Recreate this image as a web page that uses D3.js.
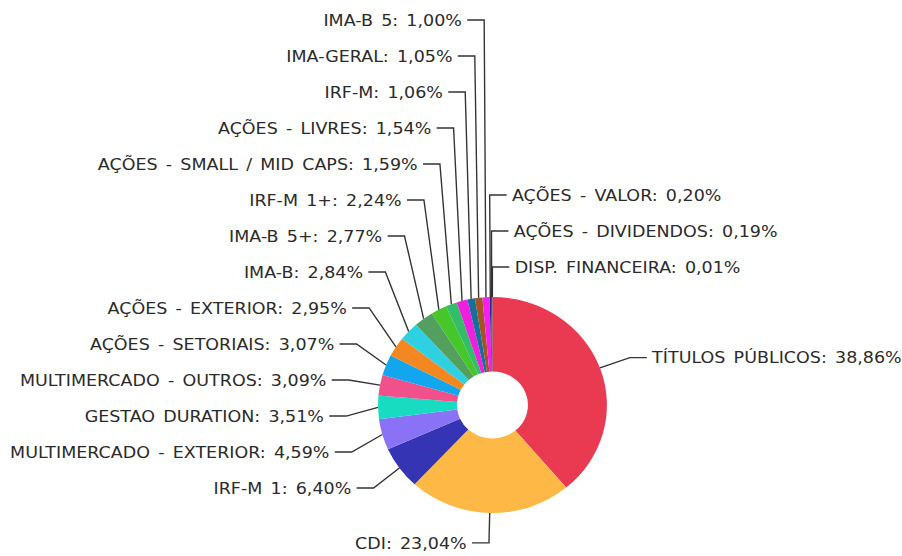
<!DOCTYPE html>
<html>
<head>
<meta charset="utf-8">
<script src="https://cdn.jsdelivr.net/npm/d3@7"></script>
<style>
    body { margin: 0; background: #fff; }
    .label { font-family: "DejaVu Sans", sans-serif; font-size: 16.5px; word-spacing: 2.5px; fill: #2b2b2b; }
    .connector { fill: none; stroke: #333; stroke-width: 1.3; }
</style>
</head>
<body>
<script>
(function(){

    //chart data, slices in clockwise order from 12 o'clock
    var categories = ["TÍTULOS PÚBLICOS", "CDI", "IRF-M 1", "MULTIMERCADO - EXTERIOR", "GESTAO DURATION",
        "MULTIMERCADO - OUTROS", "AÇÕES - SETORIAIS", "AÇÕES - EXTERIOR", "IMA-B", "IMA-B 5+", "IRF-M 1+",
        "AÇÕES - SMALL / MID CAPS", "AÇÕES - LIVRES", "IRF-M", "IMA-GERAL", "IMA-B 5",
        "AÇÕES - VALOR", "AÇÕES - DIVIDENDOS", "DISP. FINANCEIRA"];
    var values = [38.86, 23.04, 6.40, 4.59, 3.51, 3.09, 3.07, 2.95, 2.84, 2.77, 2.24, 1.59, 1.54, 1.06, 1.05, 1.00, 0.20, 0.19, 0.01];
    var colors = ["#ea3a51", "#fdb845", "#3434b4", "#8a72f6", "#17dcc1", "#f1508b", "#12a6ef", "#f4871f", "#2ed0e2",
        "#53a05e", "#46c62b", "#34bd68", "#ef1fdf", "#157099", "#a65224", "#f81df3", "#2a2a8a", "#444444", "#9b1b1b"];

    //frame: drawn in an 851 wide box, stretched to the 902 window
    var width = 902, height = 556, boxWidth = 851;
    var cx = 464.6, cy = 405,
        outerR = 108, innerR = 33.5,
        labelR = outerR + 30,
        spacing = 36, topY = 20, bottomY = 546;

    var svg = d3.select("body")
        .append("svg")
        .attr("width", width)
        .attr("height", height)
        .attr("viewBox", "0 0 " + boxWidth + " " + height)
        .attr("preserveAspectRatio", "none");

    var data = categories.map(function(c, i){
        return {name: c, value: values[i], color: colors[i]};
    });

    var pie = d3.pie()
        .sort(null)
        .value(function(d){ return d.value; });

    var arcs = pie(data);

    var arc = d3.arc()
        .innerRadius(innerR)
        .outerRadius(outerR);

    //slices
    svg.append("g")
        .attr("transform", "translate(" + cx + "," + cy + ")")
        .selectAll(".slice")
        .data(arcs)
        .enter()
        .append("path")
        .attr("class", "slice")
        .attr("d", arc)
        .style("fill", function(d){ return d.data.color; });

    //label placement
    arcs.forEach(function(d){
        d.mid = (d.startAngle + d.endAngle) / 2;
        d.naturalY = cy - labelR * Math.cos(d.mid);
        d.breakX = cx + labelR * Math.sin(d.mid);
        d.right = d.mid < Math.PI;
    });

    var right = arcs.filter(function(d){ return d.right; });
    var left = arcs.filter(function(d){ return !d.right; })
        .sort(function(a, b){ return b.mid - a.mid; });

    //left side is full: labels nearest the top move to the right side
    var capacity = Math.floor((bottomY - topY) / spacing) + 1;
    while (left.length > capacity){
        var moved = left.shift();
        moved.right = true;
        right.push(moved);
    }
    right.sort(function(a, b){
        var sa = a.mid > Math.PI ? a.mid - 2 * Math.PI : a.mid;
        var sb = b.mid > Math.PI ? b.mid - 2 * Math.PI : b.mid;
        return sa - sb;
    });

    function distribute(list){
        var n = list.length;
        for (var i = n - 1; i >= 0; i--){
            var limit = i == n - 1 ? bottomY : list[i + 1].y - spacing;
            list[i].y = Math.min(list[i].naturalY, limit);
        }
        for (var j = 0; j < n; j++){
            var low = j == 0 ? topY : list[j - 1].y + spacing;
            list[j].y = Math.max(list[j].y, low);
        }
    }
    distribute(left);
    distribute(right);

    var all = left.concat(right);

    //connectors
    svg.append("g")
        .selectAll(".connector")
        .data(all)
        .enter()
        .append("path")
        .attr("class", "connector")
        .attr("d", function(d){
            var ex = cx + outerR * Math.sin(d.mid),
                ey = cy - outerR * Math.cos(d.mid),
                dir = d.right ? 1 : -1;
            return "M" + ex + "," + ey + "L" + d.breakX + "," + d.y + "L" + (d.breakX + dir * 16) + "," + d.y;
        });

    //labels
    svg.append("g")
        .selectAll(".label")
        .data(all)
        .enter()
        .append("text")
        .attr("class", "label")
        .attr("x", function(d){ return d.breakX + (d.right ? 21 : -21); })
        .attr("y", function(d){ return d.y; })
        .attr("dy", "0.35em")
        .attr("text-anchor", function(d){ return d.right ? "start" : "end"; })
        .text(function(d){
            return d.data.name + ": " + d.data.value.toFixed(2).replace(".", ",") + "%";
        });

})();
</script>
</body>
</html>
